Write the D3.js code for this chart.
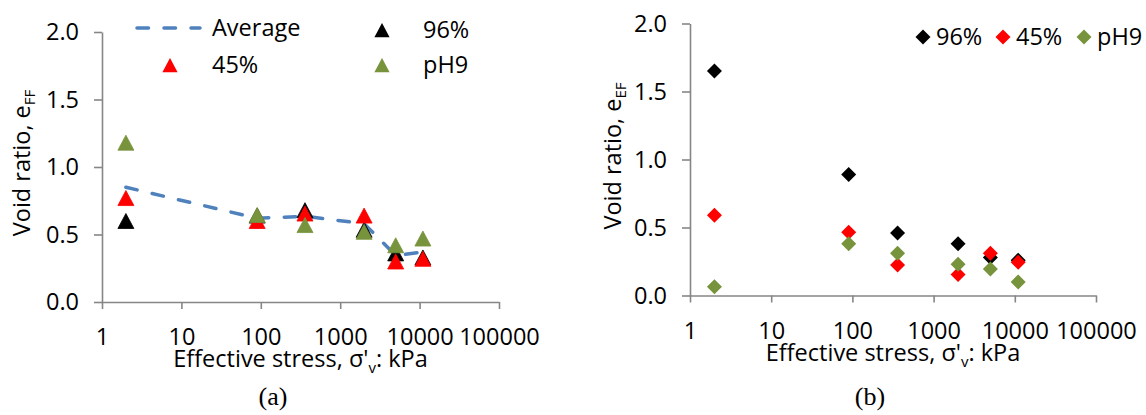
<!DOCTYPE html>
<html>
<head>
<meta charset="utf-8">
<script src="https://cdn.jsdelivr.net/npm/d3@7"></script>
<style>
  html, body { margin: 0; padding: 0; background: #fff; }
  svg { display: block; }
  text { font-family: "Open Sans", sans-serif; fill: #000; }
</style>
</head>
<body>
<svg id="chart" width="1146" height="415"></svg>
<script>
// Effective stress levels (kPa) shared by both panels
const stress = [2, 90, 360, 2000, 5000, 11000];

// Panel (a): void ratio e_FF
const effAvg = [0.85, 0.62, 0.635, 0.58, 0.345, 0.37];
const eff96 = [0.60, 0.64, 0.68, 0.535, 0.36, 0.33];
const eff45 = [0.77, 0.60, 0.655, 0.64, 0.30, 0.32];
const effPH9 = [1.18, 0.645, 0.57, 0.52, 0.42, 0.47];

// Panel (b): void ratio e_EF
const eef96 = [1.65, 0.89, 0.46, 0.38, 0.28, 0.26];
const eef45 = [0.59, 0.465, 0.225, 0.155, 0.31, 0.245];
const eefPH9 = [0.065, 0.38, 0.31, 0.23, 0.195, 0.10];

// Axis ticks
const xTicks = [1, 10, 100, 1000, 10000, 100000];
const yTicks = [0, 0.5, 1.0, 1.5, 2.0];

const seriesNames = ["96%", "45%", "pH9"];
const colors = { "96%": "#000000", "45%": "#ff0000", "pH9": "#77933c", avg: "#4f81bd" };

const svg = d3.select("#chart");
const axisColor = "#868686";
const fs = 23.5;
const subFs = 15;

const triangle = "M0,-7.5L8,7.5L-8,7.5Z";
const diamond = "M0,-7.5L7.5,0L0,7.5L-7.5,0Z";

function drawPanel(opt) {
  const x = d3.scaleLog().domain([1, 100000]).range([opt.x0, opt.x1]);
  const y = d3.scaleLinear().domain([0, 2]).range([opt.y0, opt.y1]);
  const g = svg.append("g");

  // x axis
  const gx = g.append("g")
    .attr("transform", `translate(0,${opt.y0})`)
    .call(d3.axisBottom(x).tickValues(xTicks).tickFormat(d3.format("d"))
      .tickSize(7).tickSizeOuter(0));
  gx.selectAll("text").attr("y", 43).attr("dy", null).style("font-size", fs + "px");

  // y axis
  const gy = g.append("g")
    .attr("transform", `translate(${opt.x0},0)`)
    .call(d3.axisLeft(y).tickValues(yTicks).tickFormat(d3.format(".1f"))
      .tickSize(8).tickSizeOuter(0).tickPadding(15));
  gy.selectAll("text").style("font-size", fs + "px");

  [gx, gy].forEach(a => {
    a.select(".domain").attr("stroke", axisColor).attr("stroke-width", 1.6);
    a.selectAll(".tick line").attr("stroke", axisColor).attr("stroke-width", 1.6);
    a.selectAll("text").attr("fill", "#000").style("font-family", "'Open Sans', sans-serif");
  });

  // x axis title
  const xt = g.append("text")
    .attr("x", (opt.x0 + opt.x1) / 2)
    .attr("y", opt.y0 + 65)
    .attr("text-anchor", "middle")
    .style("font-size", fs + "px");
  xt.append("tspan").text("Effective stress, σ'");
  xt.append("tspan").text("v").attr("dy", 6).style("font-size", subFs + "px");
  xt.append("tspan").text(": kPa").attr("dy", -6);

  // y axis title
  const yt = g.append("text")
    .attr("transform", "rotate(-90)")
    .attr("x", -opt.titleY)
    .attr("y", opt.titleX)
    .attr("text-anchor", "middle")
    .style("font-size", fs + "px");
  yt.append("tspan").text("Void ratio, e");
  yt.append("tspan").text(opt.sub).attr("dy", 5).style("font-size", subFs + "px");

  // panel caption
  g.append("text")
    .attr("x", opt.capX)
    .attr("y", 405)
    .attr("text-anchor", "middle")
    .style("font-family", "'Liberation Serif', 'Times New Roman', serif")
    .style("font-size", "26px")
    .text(opt.caption);

  return { g, x, y };
}

// ---------- Panel (a) ----------
const A = drawPanel({ x0: 102, x1: 499, y0: 302, y1: 32, titleX: 30, titleY: 163, sub: "FF", capX: 273, caption: "(a)" });

A.g.append("path")
  .datum(stress.map((s, i) => [s, effAvg[i]]))
  .attr("fill", "none")
  .attr("stroke", colors.avg)
  .attr("stroke-width", 3.5)
  .attr("stroke-linecap", "round")
  .attr("stroke-dasharray", "11.5,15.5")
  .attr("d", d3.line().x(d => A.x(d[0])).y(d => A.y(d[1])));

const seriesA = { "96%": eff96, "45%": eff45, "pH9": effPH9 };
seriesNames.forEach(name => {
  A.g.append("g").selectAll("path")
    .data(stress.map((s, i) => [s, seriesA[name][i]]))
    .join("path")
    .attr("d", triangle)
    .attr("transform", d => `translate(${A.x(d[0])},${A.y(d[1])})`)
    .attr("fill", colors[name])
    .attr("stroke", colors[name])
    .attr("stroke-width", 0.8);
});

// legend (a)
const legA = A.g.append("g");
legA.append("line")
  .attr("x1", 137).attr("x2", 200).attr("y1", 28).attr("y2", 28)
  .attr("stroke", colors.avg).attr("stroke-width", 3.5)
  .attr("stroke-linecap", "round").attr("stroke-dasharray", "11.5,15.5");
legA.append("text").attr("x", 212).attr("y", 36).style("font-size", fs + "px").text("Average");
const legItemsA = [
  { name: "96%", mx: 382, my: 30, tx: 423 },
  { name: "45%", mx: 170, my: 65, tx: 212 },
  { name: "pH9", mx: 382, my: 65, tx: 423 }
];
legItemsA.forEach(it => {
  legA.append("path").attr("d", triangle)
    .attr("transform", `translate(${it.mx},${it.my}) scale(0.95)`)
    .attr("fill", colors[it.name]);
  legA.append("text").attr("x", it.tx).attr("y", it.my + 7.5)
    .style("font-size", fs + "px").text(it.name);
});

// ---------- Panel (b) ----------
const B = drawPanel({ x0: 690, x1: 1096, y0: 295.5, y1: 23.5, titleX: 621, titleY: 156, sub: "EF", capX: 870, caption: "(b)" });

const seriesB = { "96%": eef96, "45%": eef45, "pH9": eefPH9 };
seriesNames.forEach(name => {
  B.g.append("g").selectAll("path")
    .data(stress.map((s, i) => [s, seriesB[name][i]]))
    .join("path")
    .attr("d", diamond)
    .attr("transform", d => `translate(${B.x(d[0])},${B.y(d[1])})`)
    .attr("fill", colors[name]);
});

// legend (b)
const legB = B.g.append("g");
const legItemsB = [
  { name: "96%", mx: 923, tx: 936 },
  { name: "45%", mx: 1003, tx: 1016 },
  { name: "pH9", mx: 1084, tx: 1097 }
];
legItemsB.forEach(it => {
  legB.append("path").attr("d", diamond)
    .attr("transform", `translate(${it.mx},37)`)
    .attr("fill", colors[it.name]);
  legB.append("text").attr("x", it.tx).attr("y", 45)
    .style("font-size", fs + "px").text(it.name);
});
</script>
</body>
</html>
